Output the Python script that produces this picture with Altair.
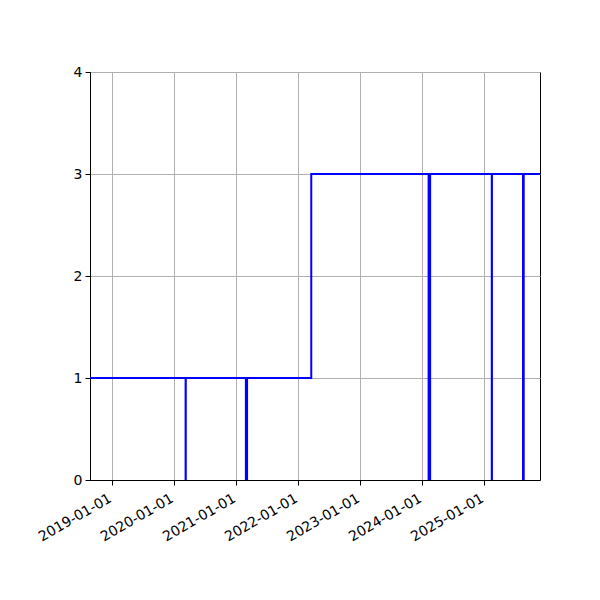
import altair as alt
import pandas as pd

# step series: value holds from each date until the next one
dates = ["2018-08-27", "2020-03-12", "2020-03-13", "2021-03-02", "2021-03-09",
         "2022-03-22", "2024-02-11", "2024-02-20", "2025-02-17", "2025-02-18",
         "2025-08-20", "2025-08-24", "2025-11-28"]
values = [1, 0, 1, 0, 1, 3, 0, 3, 0, 3, 0, 3, 3]
tick_years = [2019, 2020, 2021, 2022, 2023, 2024, 2025]
y_ticks = [0, 1, 2, 3, 4]

df = pd.DataFrame({"date": dates, "value": values})

x_domain = [
    alt.DateTime(year=2018, month=8, date=27, utc=True),
    alt.DateTime(year=2025, month=11, date=28, utc=True),
]
x_ticks = [alt.DateTime(year=y, month=1, date=1, utc=True) for y in tick_years]

chart = alt.Chart(df).mark_line(
    interpolate="step-after",
    color="blue",
    strokeWidth=2,
    clip=True
).encode(
    x=alt.X(
        "date:T",
        scale=alt.Scale(type="utc", domain=x_domain, nice=False),
        axis=alt.Axis(
            values=x_ticks,
            labelExpr="utcFormat(datum.value, '%Y-%m-%d')",
            labelAngle=-30,
            labelAlign="right",
            labelBaseline="top",
            labelOverlap=False,
            labelPadding=6,
            labelOffset=-5,
            title=None
        )
    ),
    y=alt.Y(
        "value:Q",
        scale=alt.Scale(domain=[0, 4], nice=False),
        axis=alt.Axis(values=y_ticks, title=None, labelPadding=3)
    )
).properties(
    width=450,
    height=408,
    autosize=alt.AutoSizeParams(type="none"),
    padding={"left": 82, "top": 64, "right": 52, "bottom": 112}
).configure_view(
    stroke="black",
    strokeWidth=1
).configure_axis(
    domainColor="black",
    tickColor="black",
    tickSize=5,
    gridColor="#b0b0b0",
    gridWidth=1,
    labelColor="black",
    labelFont="DejaVu Sans",
    labelFontSize=14
)

chart.save("out.html", embed_options={"renderer": "svg", "actions": False})
